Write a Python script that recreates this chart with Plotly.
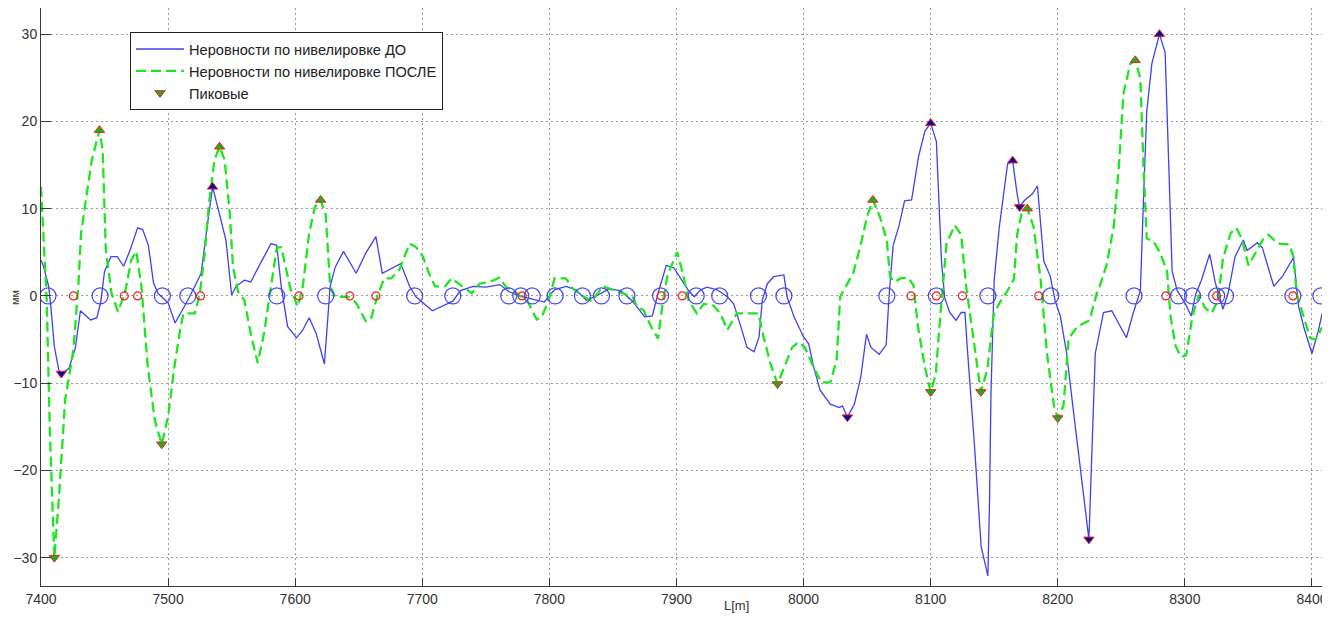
import plotly.graph_objects as go

# Неровности по нивелировке ДО (blue, solid)
L_do = [7400, 7402, 7406, 7407.5, 7410.5, 7414, 7416.5, 7422, 7427, 7431, 7439, 7444, 7447, 7450,
        7455, 7460, 7465, 7470.5, 7476, 7480, 7484.5, 7488.5, 7492, 7500, 7505.5, 7510, 7515.5,
        7521, 7526, 7530, 7535, 7539, 7545.5, 7550, 7553.5, 7560, 7565, 7575.5, 7581, 7585.5,
        7589, 7594, 7601, 7606, 7611, 7616.5, 7623, 7627.5, 7631.5, 7638, 7648, 7655.5, 7663.5,
        7668.5, 7683, 7690, 7695, 7708, 7724, 7730, 7740, 7750, 7761, 7768, 7776, 7785, 7796,
        7804, 7813, 7821, 7829, 7837, 7847, 7856, 7866, 7875, 7881, 7885.5, 7892, 7898, 7904,
        7910, 7914, 7919, 7924, 7932, 7940, 7945, 7950, 7955.5, 7961, 7965, 7967.5, 7971.5,
        7976.5, 7984.5, 7987, 7992.5, 8000, 8004, 8008, 8013, 8021, 8028, 8030.5, 8034.5, 8040,
        8045, 8049.5, 8053, 8059.5, 8065, 8067.5, 8070.5, 8075, 8079.5, 8085, 8090.5, 8095.5,
        8100, 8104.5, 8108.5, 8111, 8115, 8120, 8124, 8127, 8128.5, 8134.5, 8139.7, 8145,
        8146.3, 8147.5, 8150, 8154, 8158, 8160.5, 8164.5, 8168, 8170, 8173.5, 8180, 8184,
        8186.5, 8189, 8194, 8198, 8202, 8207, 8212.5, 8217.5, 8224.5, 8229.5, 8236, 8242.5,
        8248, 8254, 8259.5, 8265, 8267.5, 8270, 8274, 8280, 8284.5, 8287.3, 8290, 8294, 8300,
        8305, 8308.5, 8313, 8319.5, 8324, 8327, 8330, 8334, 8339.5, 8346, 8349, 8357, 8361,
        8370, 8377, 8385.5, 8389.5, 8394, 8400, 8405, 8408]
h_do = [4.1, 3.4, 1.1, -0.8, -5.8, -8.5, -8.9, -8.3, -6.0, -1.7, -2.75, -2.5, -0.7, 2.8,
        4.5, 4.5, 3.4, 5.4, 7.8, 7.6, 5.8, 1.5, 0.3, -0.8, -3.1, -2.0, -0.5,
        1.1, 2.6, 7.2, 12.5, 10.2, 6.4, 0.1, 1.1, 1.8, 1.6, 4.5, 6.0, 5.8,
        1.1, -3.5, -4.8, -3.9, -2.5, -4.3, -7.8, 1.1, 3.3, 5.1, 2.6, 4.9, 6.8,
        2.6, 3.7, 1.1, -0.1, -1.7, -0.6, 0.6, 1.1, 1.0, 1.3, 0.5, 0.0, -0.3, -0.7,
        0.7, 1.1, 0.7, -0.5, 0.0, 0.8, 0.6, -0.7, -2.4, -2.3, 0.3, 3.5, 3.2, 1.8,
        0.5, -0.1, 0.7, 1.0, 0.7, -0.1, -0.9, -3.2, -5.9, -6.4, -4.7, -0.5, 1.4,
        2.2, 2.4, -0.1, -2.4, -4.7, -5.5, -8.2, -10.8, -12.4, -12.8, -12.6, -13.9, -12.4,
        -9.3, -4.4, -5.9, -6.7, -5.6, 0.5, 5.8, 8.0, 10.9, 11.0, 16.0, 18.9,
        19.8, 17.7, 4.0, -0.2, -1.9, -2.8, -1.9, -1.9, -5.3, -17.2, -28.7, -32.1,
        -23.6, -10.9, 1.9, 7.9, 12.6, 15.1, 15.5, 11.7, 10.2, 10.9, 11.7, 12.6,
        8.3, 4.0, 2.3, -0.6, -2.3, -6.6, -13.4, -19.4, -27.9, -6.6, -1.9, -1.7,
        -3.2, -4.8, -1.9, 0.6, 11.3, 21.1, 26.6, 30.0, 27.9, 14.7, 2.8, 0.6, -0.8,
        -2.3, 0.2, 1.8, 4.8, 1.5, 0.0, -1.5, 0.3, 4.5, 6.4, 5.2, 6.1, 5.5,
        1.1, 2.3, 4.4, -1.2, -3.8, -6.6, -4.0, -2.0]

# Неровности по нивелировке ПОСЛЕ (green, dashed)
L_posle = [7400, 7404.5, 7407, 7410.5, 7414, 7419, 7425.5, 7429.5, 7431.5, 7434.5, 7440, 7446,
           7448.5, 7451, 7455.5, 7460.5, 7466, 7471, 7475, 7479, 7484, 7489.5, 7495, 7500,
           7505, 7509, 7512, 7521, 7525, 7528.5, 7532.5, 7536.5, 7540.5, 7544.5, 7548.5, 7551,
           7555, 7560, 7565, 7570.5, 7575.5, 7581, 7585.5, 7589, 7592.5, 7596.5, 7602, 7606,
           7611, 7615.5, 7620, 7624, 7627.5, 7631.5, 7642, 7648, 7655.5, 7659.5, 7664.5, 7670,
           7675.5, 7682, 7690, 7695, 7700.5, 7705.5, 7710, 7718, 7723, 7731, 7739, 7745, 7753,
           7760.5, 7766, 7772, 7777, 7782.5, 7790, 7794, 7799.5, 7804, 7813, 7818, 7826,
           7833.5, 7842, 7850, 7858, 7866, 7869, 7874, 7879.6, 7885.5, 7889, 7893, 7900.5,
           7904.5, 7909.5, 7916, 7921.5, 7929, 7934.5, 7940, 7947.5, 7955.5, 7964.5, 7968.5,
           7974, 7979.5, 7984.5, 7991, 7996, 8001, 8008, 8014, 8021, 8026, 8028.8, 8032.7,
           8039, 8044.5, 8050, 8054.5, 8060, 8065.5, 8068, 8072, 8076, 8082.5, 8086.5, 8090,
           8095.5, 8100, 8104, 8107.5, 8112.5, 8119, 8124, 8128, 8133.5, 8139.5, 8144.5,
           8149.5, 8154.5, 8160.5, 8165.5, 8168, 8172, 8176, 8181, 8186.5, 8191.5, 8197,
           8200, 8204.5, 8208.5, 8215.5, 8225, 8230.5, 8233, 8238.5, 8244, 8248, 8251.7,
           8257, 8261, 8265, 8267.5, 8270, 8275.5, 8280.7, 8286, 8288.7, 8292.6, 8297, 8301,
           8306, 8311, 8316, 8321, 8326, 8330, 8336, 8340.5, 8345, 8350, 8355.5, 8362, 8366,
           8373, 8382, 8385.5, 8388, 8392.5, 8398.5, 8403, 8408]
h_posle = [12.5, -0.5, -15.7, -30.0, -23.4, -11.9, -6.2, 1.5, 7.2, 10.2, 15.6, 19.0,
           16.7, 5.3, 0.3, -1.8, 0.3, 4.1, 5.1, 1.1, -8.1, -14.2, -17.0, -13.8,
           -8.1, -4.3, -2.0, -2.0, 0.3, 4.5, 11.0, 15.6, 17.1, 15.6, 9.5, 3.4,
           0.5, -0.5, -4.3, -7.7, -4.3, 1.1, 5.5, 5.6, 3.4, 0.7, -1.2, 1.1,
           7.2, 10.2, 11.0, 9.3, 1.1, -0.1, -0.1, -0.8, -2.9, -2.7, -0.1, 2.0,
           2.0, 3.0, 6.0, 5.6, 4.5, 2.5, 1.1, 1.1, 2.0, 1.1, 0.3, 1.4, 1.6,
           2.1, 1.0, 0.6, 0.0, -0.5, -2.7, -2.4, -0.5, 2.0, 2.0, 0.9, 0.0,
           -0.6, 1.1, 0.7, 0.3, -0.2, -1.3, -1.6, -3.4, -4.9, -1.0, 2.4, 5.0,
           2.9, -0.5, -2.0, -0.9, -1.1, -2.0, -3.9, -2.0, -2.0, -2.0, -4.7,
           -7.8, -10.1, -8.2, -5.9, -5.3, -5.9, -8.2, -9.9, -9.9, -7.4, -0.1, 1.0,
           2.6, 5.6, 9.1, 11.0, 9.1, 6.4, 2.2, 1.6, 2.0, 2.1, 1.2, -3.5,
           -8.2, -11.0, -9.0, -2.4, 6.0, 8.1, 7.0, 1.0, -5.0, -11.0, -8.5,
           -2.2, -0.7, 0.6, 1.9, 7.0, 9.8, 10.0, 7.9, 1.9, -6.6, -12.6,
           -14.0, -12.6, -4.9, -3.5, -2.8, 0.2, 1.1, 3.6, 7.9, 14.7, 23.2,
           26.6, 27.0, 24.9, 14.7, 6.6, 6.2, 4.9, 2.8, -2.3, -5.7, -7.0, -6.8,
           -2.3, 0.1, -1.4, -2.0, -0.5, 4.3, 7.2, 7.8, 6.5, 3.5, 5.0, 6.6, 7.0,
           6.0, 5.9, 4.5, 0.2, -2.0, -4.8, -5.0, -3.6]

# Peaks of the ПОСЛЕ profile (shown in the legend as "Пиковые")
peak_posle_L = [7410.5, 7446, 7495, 7540.5, 7620, 7979.5, 8054.5, 8100, 8139.5, 8176, 8200, 8261]
peak_posle_h = [-30.0, 19.0, -17.0, 17.1, 11.0, -10.1, 11.0, -11.0, -11.0, 10.0, -14.0, 27.0]
peak_posle_kind = ["min", "max", "min", "max", "max", "min", "max", "min", "min", "max", "min", "max"]

# Peaks of the ДО profile
peak_do_L = [7416, 7535, 8034.5, 8100, 8164.5, 8170, 8224.5, 8280]
peak_do_h = [-8.9, 12.5, -13.9, 19.8, 15.5, 10.2, -27.9, 30.0]
peak_do_kind = ["min", "max", "min", "max", "max", "min", "min", "max"]

# Zero-level crossing marks
zero_do_L = [7405.5, 7446.5, 7495.5, 7515.5, 7585.5, 7624, 7694, 7724, 7768, 7777.5, 7786.5,
             7804.5, 7826, 7841, 7861, 7887.5, 7915.5, 7934, 7964.5, 7984.5, 8065.5, 8104.5,
             8145, 8194.5, 8260, 8295, 8306, 8325, 8332, 8385, 8407]
zero_posle_L = [7425.5, 7465.5, 7476, 7525.5, 7603, 7643, 7663.5, 7778.5, 7888, 7904.5,
                8084.5, 8104.5, 8125, 8185, 8285, 8325, 8385]

x_ticks = [7400, 7500, 7600, 7700, 7800, 7900, 8000, 8100, 8200, 8300, 8400]
y_ticks = [-30, -20, -10, 0, 10, 20, 30]

FONT = "Liberation Sans, Arial, sans-serif"


def tri(kinds):
    return ["triangle-up" if k == "max" else "triangle-down" for k in kinds]


fig = go.Figure()

fig.add_trace(go.Scatter(
    x=L_do, y=h_do, mode="lines", name="Неровности по нивелировке ДО",
    line=dict(color="#4040f0", width=1.3)))

fig.add_trace(go.Scatter(
    x=L_posle, y=h_posle, mode="lines", name="Неровности по нивелировке ПОСЛЕ",
    line=dict(color="#1ee61e", width=2.3, dash="10px,5px")))

fig.add_trace(go.Scatter(
    x=zero_do_L, y=[0] * len(zero_do_L), mode="markers", showlegend=False,
    marker=dict(symbol="circle-open", size=16, color="#4646f0", line=dict(width=1.2))))

fig.add_trace(go.Scatter(
    x=zero_posle_L, y=[0] * len(zero_posle_L), mode="markers", showlegend=False,
    marker=dict(symbol="circle-open", size=8, color="#f02020", line=dict(width=1.2))))

fig.add_trace(go.Scatter(
    x=peak_posle_L, y=peak_posle_h, mode="markers", name="Пиковые",
    marker=dict(symbol=tri(peak_posle_kind), size=9, color="#1fae1f",
                line=dict(color="#f02020", width=1))))

fig.add_trace(go.Scatter(
    x=peak_do_L, y=peak_do_h, mode="markers", showlegend=False,
    marker=dict(symbol=tri(peak_do_kind), size=9, color="#0a0aa0",
                line=dict(color="#f02020", width=1))))

axis_common = dict(
    showline=True, linecolor="#3a3a3a", linewidth=1,
    ticks="inside", tickcolor="#3a3a3a",
    showgrid=True, gridcolor="#9a9a9a", gridwidth=1, griddash="2px,3px",
    zeroline=False, tickfont=dict(family=FONT, size=14, color="#333333"),
)

fig.update_layout(
    width=1336, height=617,
    margin=dict(l=41, r=14, t=8, b=31),
    paper_bgcolor="white", plot_bgcolor="white",
    xaxis=dict(range=[7400, 8407.9], tickvals=x_ticks, ticklen=8, **axis_common),
    yaxis=dict(range=[-33.25, 33.0], tickvals=y_ticks, ticklen=10, **axis_common),
    legend=dict(
        x=0.0695, y=0.9585, xanchor="left", yanchor="top",
        bgcolor="white", bordercolor="#222222", borderwidth=1,
        font=dict(family=FONT, size=14.6, color="#222222"),
        itemwidth=48, tracegroupgap=0,
    ),
    annotations=[
        dict(text="мм", xref="paper", yref="paper", x=-0.0203, y=0.5,
             textangle=-90, showarrow=False, font=dict(family=FONT, size=11, color="#333333"),
             xanchor="center", yanchor="middle"),
        dict(text="L[m]", xref="paper", yref="paper", x=0.5433, y=-0.0346,
             showarrow=False, font=dict(family=FONT, size=13, color="#333333"),
             xanchor="center", yanchor="middle"),
    ],
    shapes=[
        dict(type="rect", xref="paper", yref="paper", x0=1.0, x1=1.02, y0=-0.1, y1=1.02,
             fillcolor="white", line=dict(width=0), layer="above"),
    ],
    showlegend=True,
)

fig.write_html("out.html")
